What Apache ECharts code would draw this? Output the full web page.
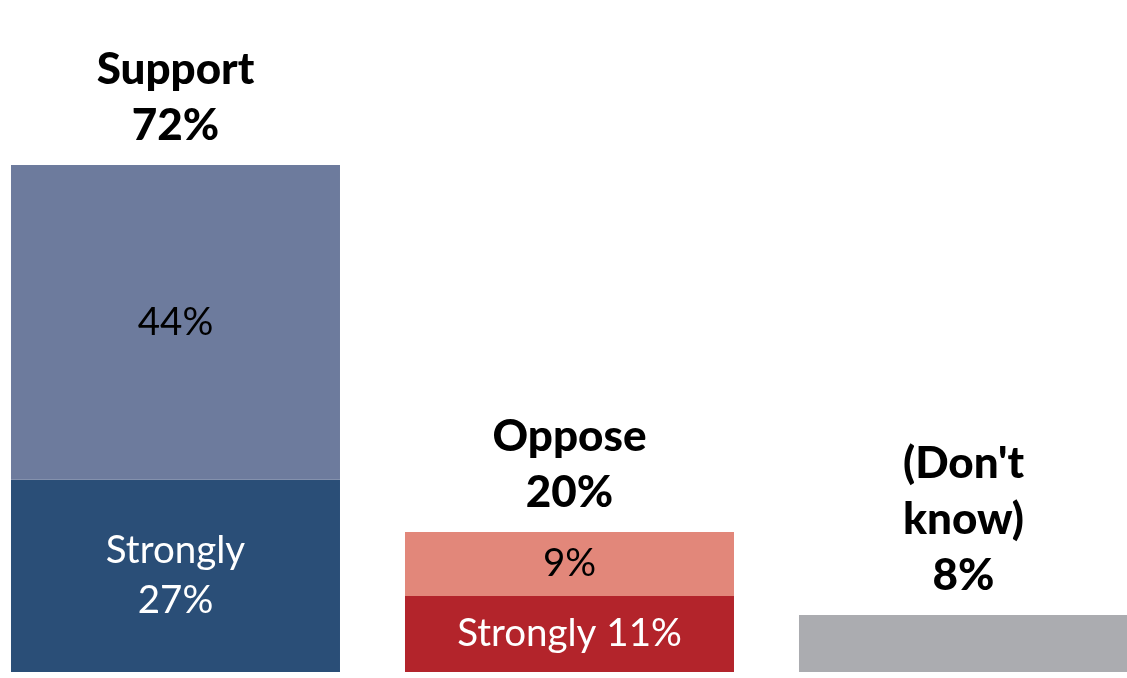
<!DOCTYPE html>
<html>
<head>
<meta charset="utf-8">
<script src="https://cdn.jsdelivr.net/npm/echarts@6/dist/echarts.min.js"></script>
<style>html,body{margin:0;padding:0;background:#fff;}#c{width:1127px;height:678px;}</style>
</head>
<body>
<div id="c"></div>
<script>
var categories = ['Support', 'Oppose', "Don't know"];
var strongValues = [27.3, 10.8, null];
var somewhatValues = [44.7, 9.1, null];
var dontKnowValues = [null, null, 8.1];
var strongLabels = ['Strongly\n27%', 'Strongly 11%', ''];
var somewhatLabels = ['44%', '9%', ''];
var topLabels = ['Support\n72%', 'Oppose\n20%', "(Don't\nknow)\n8%"];

var strongColors = ['#2A4E77', '#B3242B', null];
var somewhatColors = ['#6D7B9D', '#E2877A', null];
var dkColor = '#ABACB0';
var FONT = 'Lato';

var totals = categories.map(function (c, i) {
  return (strongValues[i] || 0) + (somewhatValues[i] || 0) + (dontKnowValues[i] || 0);
});

// Each point is [value, categoryIndex]; encode maps column 1 to x, column 0 to y,
// so the stacked dimension is the value (y).
function items(vals, colors) {
  return vals.map(function (v, i) {
    if (v == null) return ['-', i];
    return colors ? { value: [v, i], itemStyle: { color: colors[i] } } : [v, i];
  });
}

var barCommon = { type: 'bar', stack: 't', barWidth: 329, encode: { x: 1, y: 0 } };

var chart = echarts.init(document.getElementById('c'));
chart.setOption({
  animation: false,
  backgroundColor: '#ffffff',
  grid: { left: 11, right: 0, top: 0, bottom: 6, containLabel: false },
  xAxis: { type: 'value', min: -0.4175, max: 2.4150, show: false },
  yAxis: { type: 'value', min: 0, max: 95.45, show: false },
  series: [
    Object.assign({}, barCommon, {
      name: 'Strongly',
      data: items(strongValues, strongColors),
      label: {
        show: true, position: 'inside', color: '#fff', fontFamily: FONT, fontSize: 38.5, lineHeight: 50,
        formatter: function (p) { return strongLabels[p.dataIndex]; }
      }
    }),
    Object.assign({}, barCommon, {
      name: 'Somewhat',
      data: items(somewhatValues, somewhatColors),
      label: {
        show: true, position: 'inside', color: '#000', fontFamily: FONT, fontSize: 38.5,
        formatter: function (p) { return somewhatLabels[p.dataIndex]; }
      }
    }),
    Object.assign({}, barCommon, {
      name: "Don't know",
      data: items(dontKnowValues, null),
      itemStyle: { color: dkColor }
    }),
    {
      name: 'Totals', type: 'scatter', symbolSize: 1,
      itemStyle: { color: '#000', opacity: 0 },
      data: totals.map(function (t, i) { return [i, t]; }),
      label: {
        show: true, position: 'top', distance: 11, color: '#000', opacity: 1, fontFamily: FONT,
        fontWeight: 900, fontSize: 44, lineHeight: 56, align: 'center',
        formatter: function (p) { return topLabels[p.dataIndex]; }
      }
    }
  ]
});
</script>
</body>
</html>
